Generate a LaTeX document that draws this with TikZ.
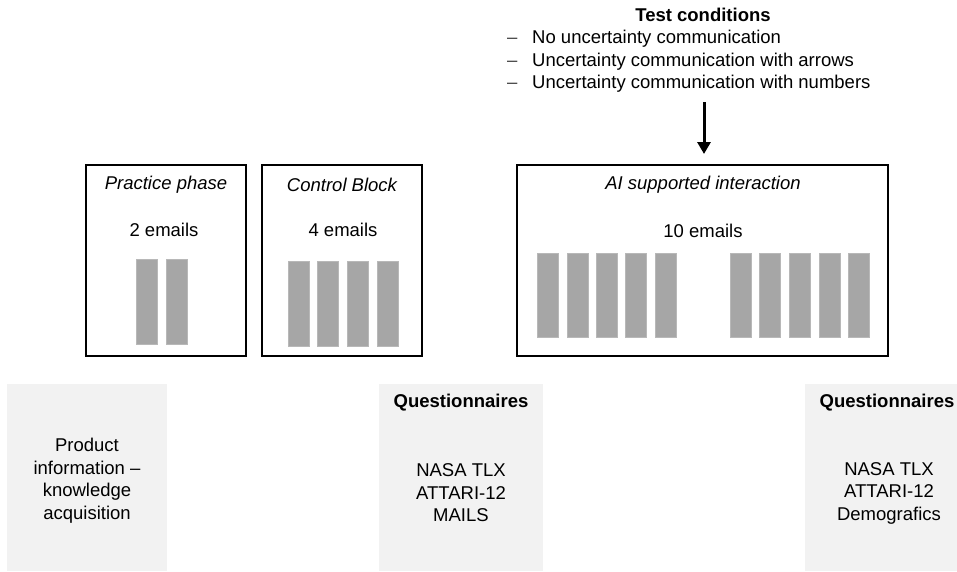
\documentclass[tikz,border=0pt]{standalone}
\usepackage{fontspec}
\setmainfont{Liberation Sans}
\usetikzlibrary{arrows.meta}
\definecolor{bargray}{HTML}{A6A6A6}
\definecolor{panelgray}{HTML}{F2F2F2}
\tikzset{
  txt/.style={inner sep=0pt, font=\fontsize{18.5}{22.5}\selectfont, align=center},
  phasebox/.style={draw=black, line width=2pt, minimum height=191pt, inner sep=0pt},
  emailbar/.style={fill=bargray, draw=bargray!80!white, line width=0.6pt, minimum width=21pt, inner sep=0pt},
  panel/.style={fill=panelgray, draw=none, minimum height=187pt, inner sep=0pt},
  bigarrow/.style={line width=3pt, -{Triangle[width=13pt,length=12pt]}}
}
\begin{document}
\begin{tikzpicture}[x=1pt, y=-1pt]
  \clip (0,0) rectangle (957,571);
  \fill[white] (0,0) rectangle (957,571);

  % test conditions
  \node[txt, font=\fontsize{18.5}{22.5}\selectfont\bfseries] (condtitle) at (703,15) {Test conditions};
  \node[txt, align=left, anchor=north west] (condlist) at (507,30)
    {\makebox[25pt][l]{\color{black!75}–}No uncertainty communication\\
     \makebox[25pt][l]{\color{black!75}–}Uncertainty communication with arrows\\
     \makebox[25pt][l]{\color{black!75}–}Uncertainty communication with numbers};

  % phase boxes
  \node[phasebox, minimum width=160pt] (practice) at (166,260.5) {};
  \node[phasebox, minimum width=160pt] (control) at (342,260.5) {};
  \node[phasebox, minimum width=371pt] (ai) at (702.5,260.5) {};

  \node[txt, font=\fontsize{18.5}{22.5}\selectfont\itshape] (practicetitle) at (166,185) {Practice phase};
  \node[txt] (practicecount) at (164,230) {2 emails};
  \node[txt, font=\fontsize{18.5}{22.5}\selectfont\itshape] (controltitle) at (342,185) {Control Block};
  \node[txt] (controlcount) at (343,230) {4 emails};
  \node[txt, font=\fontsize{18.5}{22.5}\selectfont\itshape] (aititle) at (703,185) {AI supported interaction};
  \node[txt] (aicount) at (703,231) {10 emails};

  % email bars
  \foreach \x [count=\i] in {146.5,176.5}
    \node[emailbar, minimum height=85pt] (pbar\i) at (\x,301.5) {};
  \foreach \x [count=\i] in {298.5,327.5,357.5,387.5}
    \node[emailbar, minimum height=85pt] (cbar\i) at (\x,303.5) {};
  \foreach \x [count=\i] in {547.5,577.5,606.5,635.5,665.5,740.5,769.5,799.5,829.5,858.5}
    \node[emailbar, minimum height=84pt] (abar\i) at (\x,295) {};

  % arrow from the conditions into the AI block
  \coordinate (arrowtop) at (704,102);
  \draw[bigarrow, shorten >=10pt] (arrowtop) -- (arrowtop |- ai.north);

  % grey panels
  \node[panel, minimum width=160pt] (product) at (87,477.5) {};
  \node[panel, minimum width=164pt] (quest1) at (461,477.5) {};
  \node[panel, minimum width=164pt] (quest2) at (887,477.5) {};

  \node[txt] (producttext) at (87,480.5) {Product\\information –\\knowledge\\acquisition};
  \node[txt, font=\fontsize{18.5}{22.5}\selectfont\bfseries] (q1title) at (461,403) {Questionnaires};
  \node[txt] (q1list) at (461,493) {NASA TLX\\ATTARI-12\\MAILS};
  \node[txt, font=\fontsize{18.5}{22.5}\selectfont\bfseries] (q2title) at (887,403) {Questionnaires};
  \node[txt] (q2list) at (889,493) {NASA TLX\\ATTARI-12\\Demografics};
\end{tikzpicture}
\end{document}
